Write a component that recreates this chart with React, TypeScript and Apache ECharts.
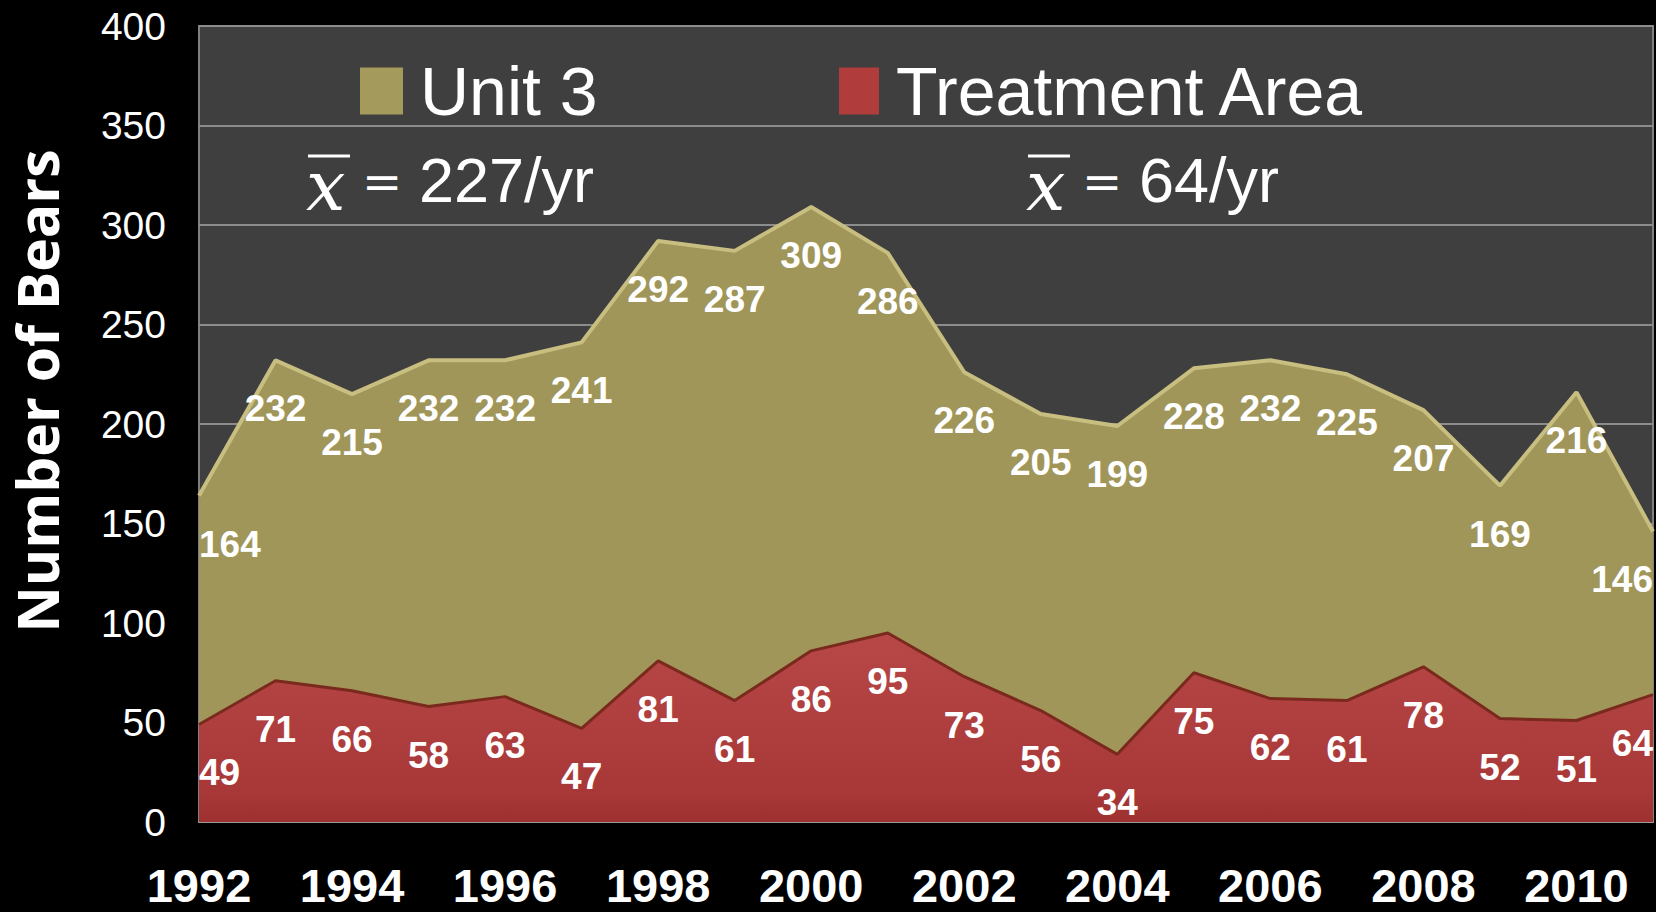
import React, { useEffect, useRef } from "react";
import * as echarts from "echarts";

const years = ["1992","1993","1994","1995","1996","1997","1998","1999","2000","2001","2002","2003","2004","2005","2006","2007","2008","2009","2010","2011"];
const unit3 = [164, 232, 215, 232, 232, 241, 292, 287, 309, 286, 226, 205, 199, 228, 232, 225, 207, 169, 216, 146];
const treatment = [49, 71, 66, 58, 63, 47, 81, 61, 86, 95, 73, 56, 34, 75, 62, 61, 78, 52, 51, 64];
const yTicks = { min: 0, max: 400, interval: 50 };
const seriesNames = ["Unit 3", "Treatment Area"];
const meanTexts = ["227/yr", "64/yr"];
const axisTitle = "Number of Bears";

const SANS = "'Liberation Sans', Arial, sans-serif";

function buildData(values: number[]) {
  const last = values.length - 1;
  return values.map((v, i) => {
    if (i === 0) return { value: v, label: { align: "left" } };
    if (i === last) return { value: v, label: { align: "right" } };
    return v;
  });
}

export default function App() {
  const ref = useRef<HTMLDivElement>(null);
  useEffect(() => {
    if (!ref.current) return;
    const chart = echarts.init(ref.current, null, { renderer: "svg" });
    const labelStyle = {
      show: true,
      position: "bottom",
      distance: 30,
      color: "#ffffff",
      fontFamily: SANS,
      fontWeight: "bold",
      fontSize: 37,
    };
    const meanItem = (x: number, txt: string) => [
      {
        type: "text",
        x: x,
        y: 186,
        style: { text: "x", fontFamily: "'DejaVu Serif', serif", fontStyle: "italic", fontSize: 70, fill: "#ffffff", textVerticalAlign: "middle" },
      },
      {
        type: "line",
        shape: { x1: x + 2, y1: 156, x2: x + 44, y2: 156 },
        style: { stroke: "#ffffff", lineWidth: 3 },
      },
      {
        type: "text",
        x: x + 56,
        y: 182,
        style: { text: "=", fontFamily: "'DejaVu Serif', serif", fontSize: 48, fill: "#ffffff", textVerticalAlign: "middle" },
      },
      {
        type: "text",
        x: x + 113,
        y: 180,
        style: { text: txt, fontFamily: SANS, fontSize: 63, fill: "#ffffff", textVerticalAlign: "middle" },
      },
    ];
    chart.setOption({
      animation: false,
      backgroundColor: "#000000",
      grid: {
        left: 199,
        right: 3,
        top: 26,
        bottom: 90,
        show: true,
        backgroundColor: "#3f3f3f",
        borderColor: "#808080",
        borderWidth: 2,
      },
      legend: [
        {
          data: [seriesNames[0]],
          left: 355,
          top: 52,
          itemWidth: 43,
          itemHeight: 47,
          icon: "rect",
          textStyle: { color: "#ffffff", fontFamily: SANS, fontSize: 68, padding: [0, 0, 0, 12] },
        },
        {
          data: [seriesNames[1]],
          left: 834,
          top: 52,
          itemWidth: 40,
          itemHeight: 47,
          icon: "rect",
          textStyle: { color: "#ffffff", fontFamily: SANS, fontSize: 68, padding: [0, 0, 0, 12] },
        },
      ],
      xAxis: {
        type: "category",
        data: years,
        boundaryGap: false,
        axisTick: { show: false },
        axisLine: { lineStyle: { color: "#9a9a9a", width: 2 } },
        axisLabel: {
          interval: 1,
          color: "#ffffff",
          fontFamily: SANS,
          fontWeight: "bold",
          fontSize: 47,
          margin: 40,
        },
        splitLine: { show: false },
      },
      yAxis: {
        type: "value",
        min: yTicks.min,
        max: yTicks.max,
        interval: yTicks.interval,
        axisLine: { show: false },
        axisTick: { show: false },
        axisLabel: { color: "#ffffff", fontFamily: SANS, fontSize: 39, margin: 33 },
        splitLine: { lineStyle: { color: "#8c8c8c", width: 2 } },
      },
      series: [
        {
          name: seriesNames[0],
          type: "line",
          data: buildData(unit3),
          symbol: "circle",
          symbolSize: 0.01,
          showSymbol: true,
          lineStyle: { color: "#c8be80", width: 4 },
          itemStyle: { color: "#a39a5c" },
          areaStyle: { color: "#a0965a", opacity: 1 },
          label: labelStyle,
          z: 2,
        },
        {
          name: seriesNames[1],
          type: "line",
          data: buildData(treatment),
          symbol: "circle",
          symbolSize: 0.01,
          showSymbol: true,
          lineStyle: { color: "#7a2a1c", width: 3 },
          itemStyle: { color: "#b03c3c" },
          areaStyle: {
            opacity: 1,
            color: new echarts.graphic.LinearGradient(0, 0, 0, 1, [
              { offset: 0, color: "#b84848" },
              { offset: 0.85, color: "#a83838" },
              { offset: 1, color: "#9e3030" },
            ]),
          },
          label: labelStyle,
          z: 3,
        },
      ],
      graphic: [
        {
          type: "text",
          x: 37,
          y: 391,
          rotation: Math.PI / 2,
          style: {
            text: axisTitle,
            fontFamily: "'Open Sans', sans-serif",
            fontWeight: "bold",
            fontSize: 57,
            lineHeight: 58,
            fill: "#ffffff",
            textAlign: "center",
            textVerticalAlign: "middle",
          },
        },
        ...meanItem(306, meanTexts[0]),
        ...meanItem(1026, meanTexts[1]),
      ],
    });
    return () => chart.dispose();
  }, []);
  return <div ref={ref} style={{ position: "fixed", left: 0, top: 0, width: 1656, height: 912 }} />;
}
